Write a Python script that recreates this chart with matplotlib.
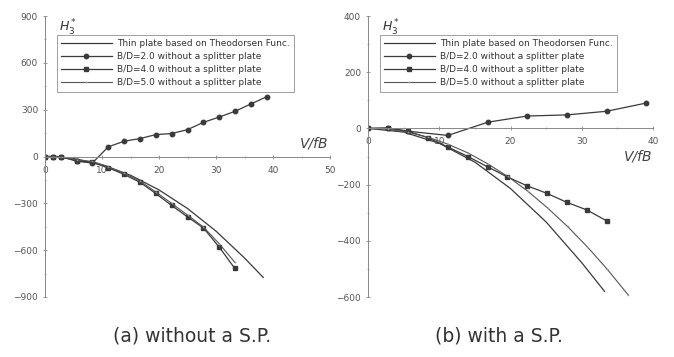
import matplotlib
matplotlib.use("Agg")
import matplotlib.pyplot as plt
from matplotlib.ticker import MultipleLocator

# ---- data: (a) without a splitter plate ----
theo_x_a = [0, 5, 10, 15, 20, 25, 30, 35, 38.3]
theo_y_a = [0, -13, -53, -120, -214, -333, -478, -650, -775]
bd2_x_a = [0, 1.4, 2.8, 5.6, 8.3, 11.1, 13.9, 16.7, 19.4, 22.2, 25.0, 27.8, 30.6, 33.3, 36.1, 38.9]
bd2_y_a = [0, 0, 0, -30, -42, 62, 98, 115, 140, 147, 172, 219, 253, 289, 336, 383]
bd4_x_a = [0, 1.4, 2.8, 5.6, 8.3, 11.1, 13.9, 16.7, 19.4, 22.2, 25.0, 27.8, 30.6, 33.3]
bd4_y_a = [0, 0, -3, -28, -38, -72, -115, -166, -236, -313, -387, -458, -582, -717]
bd5_x_a = [0, 1.4, 2.8, 5.6, 8.3, 11.1, 13.9, 16.7, 19.4, 22.2, 25.0, 27.8, 30.6, 33.3]
bd5_y_a = [0, 0, -2, -20, -32, -65, -108, -158, -226, -300, -375, -452, -560, -678]

# ---- data: (b) with a splitter plate ----
theo_x_b = [0, 5, 10, 15, 20, 25, 30, 33.2]
theo_y_b = [0, -13, -53, -120, -214, -333, -478, -580]
bd2_x_b = [0, 2.8, 5.6, 11.2, 16.8, 22.3, 27.9, 33.5, 39.0]
bd2_y_b = [0, 2, -10, -25, 22, 44, 48, 61, 90]
bd4_x_b = [0, 2.8, 5.6, 8.4, 11.2, 14.1, 16.8, 19.5, 22.3, 25.1, 27.9, 30.7, 33.5]
bd4_y_b = [0, 0, -10, -33, -66, -101, -137, -172, -204, -231, -263, -290, -329]
bd5_x_b = [0, 2.8, 5.6, 8.4, 11.2, 14.0, 16.8, 19.6, 22.4, 25.2, 28.0, 30.8, 33.6, 36.5]
bd5_y_b = [0, -3, -14, -31, -56, -87, -126, -171, -223, -283, -349, -422, -502, -592]

legend_labels = ["Thin plate based on Theodorsen Func.",
                 "B/D=2.0 without a splitter plate",
                 "B/D=4.0 without a splitter plate",
                 "B/D=5.0 without a splitter plate"]
captions = ["(a) without a S.P.", "(b) with a S.P."]

LC = "#3a3a3a"
TC = "#555555"

fig = plt.figure(figsize=(6.74, 3.57), dpi=100)
axA = fig.add_axes([45/674, 1-297/357, 285/674, 281/357])
axB = fig.add_axes([368/674, 1-297/357, 285/674, 281/357])


def style(ax, xlim, ylim, xmaj, xmin, ymaj, ymin):
    ax.set_xlim(*xlim)
    ax.set_ylim(*ylim)
    for s in ["top", "right"]:
        ax.spines[s].set_visible(False)
    ax.spines["bottom"].set_position(("data", 0))
    ax.spines["bottom"].set_color("#888888")
    ax.spines["left"].set_color("#888888")
    ax.spines["bottom"].set_linewidth(0.7)
    ax.spines["left"].set_linewidth(0.7)
    ax.xaxis.set_major_locator(MultipleLocator(xmaj))
    ax.xaxis.set_minor_locator(MultipleLocator(xmin))
    ax.yaxis.set_major_locator(MultipleLocator(ymaj))
    ax.yaxis.set_minor_locator(MultipleLocator(ymin))
    ax.tick_params(axis="both", which="major", labelsize=6.5, colors="#888888",
                   labelcolor=TC, length=3, width=0.6, direction="inout")
    ax.tick_params(axis="both", which="minor", colors="#888888", length=2,
                   width=0.5, direction="inout")
    ax.tick_params(axis="x", pad=5)
    ax.patch.set_alpha(0)


def draw(ax, tx, ty, x2, y2, x4, y4, x5, y5):
    h1, = ax.plot(tx, ty, color=LC, lw=0.9)
    h2, = ax.plot(x2, y2, color=LC, lw=0.9, marker="o", ms=3.2)
    h3, = ax.plot(x4, y4, color=LC, lw=0.9, marker="s", ms=3.4)
    h4, = ax.plot(x5, y5, color="#555555", lw=0.8, marker="+", ms=2.0,
                  mew=0.4, markeredgecolor="#999999")
    return [h1, h2, h3, h4]


hA = draw(axA, theo_x_a, theo_y_a, bd2_x_a, bd2_y_a, bd4_x_a, bd4_y_a, bd5_x_a, bd5_y_a)
style(axA, (0, 50), (-900, 900), 10, 5, 300, 150)
hB = draw(axB, theo_x_b, theo_y_b, bd2_x_b, bd2_y_b, bd4_x_b, bd4_y_b, bd5_x_b, bd5_y_b)
style(axB, (0, 40), (-600, 400), 10, 5, 200, 100)

for ax, h in [(axA, hA), (axB, hB)]:
    leg = ax.legend(h, legend_labels, loc="upper left", bbox_to_anchor=(0.025, 0.95),
                    fontsize=6.5, handlelength=5.6, frameon=True, fancybox=False,
                    borderpad=0.5, labelspacing=0.45, handletextpad=0.6,
                    labelcolor="#333333")
    leg.get_frame().set_edgecolor("#888888")
    leg.get_frame().set_linewidth(0.7)

axA.text(0.048, 0.995, r"$H_3^*$", transform=axA.transAxes, fontsize=9,
         color="#333333", va="top", ha="left")
axB.text(0.048, 0.995, r"$H_3^*$", transform=axB.transAxes, fontsize=9,
         color="#333333", va="top", ha="left")
axA.text(49.8, 40, "V/fB", fontsize=10, fontstyle="italic", color="#444444",
         ha="right", va="bottom")
axB.text(39.9, -75, "V/fB", fontsize=10, fontstyle="italic", color="#444444",
         ha="right", va="top")

fig.text(192/674, 1-336/357, captions[0], fontsize=13.5, color="#333333",
         ha="center", va="center")
fig.text(499/674, 1-336/357, captions[1], fontsize=13.5, color="#333333",
         ha="center", va="center")

fig.savefig("out.png", dpi=100)
